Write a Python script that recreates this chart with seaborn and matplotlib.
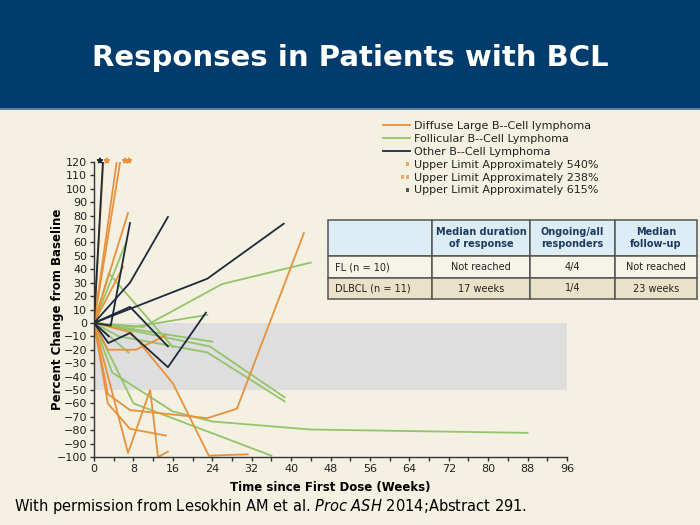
import pandas as pd
import seaborn as sns
import matplotlib.pyplot as plt
from matplotlib.lines import Line2D
from matplotlib.patches import Rectangle
from matplotlib.path import Path

# 颜色
bg = '#f4f0e2'
navy = '#013c6d'
c_dlbcl = '#e8913a'
c_fl = '#94c46a'
c_other = '#1d2a3b'

# DLBCL 患者 (周, 相对基线变化 %)
dlbcl_weeks = [
    [0, 1.9],
    [0, 4.6],
    [0, 5.3],
    [0, 6.9],
    [0, 5.9],
    [0, 2.8, 8.5, 14.5],
    [0, 7.5, 16, 23.3, 31.2],
    [0, 2.8, 7.3, 23, 29, 42.6],
    [0, 2.8, 7.3, 14.6],
    [0, 6.9, 11.4, 13, 15],
]
dlbcl_pct = [
    [0, 120],
    [0, 120],
    [0, 120],
    [0, 82],
    [0, 42],
    [0, -20, -20, -9.5],
    [0, -7, -45, -99, -98],
    [0, -53, -65, -71, -64, 67],
    [0, -60, -79, -84],
    [0, -97, -50, -100, -96],
]

# FL 患者
fl_weeks = [
    [0, 6.5],
    [0, 3, 16],
    [0, 10, 26, 44],
    [0, 8, 23],
    [0, 24],
    [0, 23.5, 38.7],
    [0, 5, 23, 38.7],
    [0, 3.7, 16, 24, 44, 88],
    [0, 8, 36],
    [0, 7],
]
fl_pct = [
    [0, 60],
    [0, 37, -18],
    [0, -3, 29, 45],
    [0, -3, 6],
    [0, -14],
    [0, -17.5, -55.5],
    [0, -10, -22, -58.5],
    [0, -37, -66, -73.5, -79.5, -82],
    [0, -60, -99],
    [0, -22],
]

# 其他 B 细胞淋巴瘤
other_weeks = [
    [0, 1.8],
    [0, 3.4, 7.3],
    [0, 7.3, 15],
    [0, 23, 38.5],
    [0, 7.3, 15],
    [0, 2.9, 7.3, 15, 22.7],
    [0, 3],
]
other_pct = [
    [0, 120],
    [0, -2, 74.5],
    [0, 30, 79],
    [0, 33, 74],
    [0, 12, -17.5],
    [0, -15, -7.5, -33, 7.6],
    [0, -10],
]

# 上限标记 (*, **)
mark_weeks = [1.2, 2.6, 6.3, 7.1]
mark_colors = [c_other, c_dlbcl, c_dlbcl, c_dlbcl]

groups = ['Diffuse Large B--Cell lymphoma', 'Follicular B--Cell Lymphoma', 'Other B--Cell Lymphoma']
legend_marks = ['Upper Limit Approximately 540%', 'Upper Limit Approximately 238%',
                'Upper Limit Approximately 615%']

# 表格
col_labels = ['', 'Median duration\nof response', 'Ongoing/all\nresponders', 'Median\nfollow-up']
row_fl = ['FL (n = 10)', 'Not reached', '4/4', 'Not reached']
row_dlbcl = ['DLBCL (n = 11)', '17 weeks', '1/4', '23 weeks']

rows = []
for g, weeks, pcts in [(groups[1], fl_weeks, fl_pct),
                       (groups[0], dlbcl_weeks, dlbcl_pct),
                       (groups[2], other_weeks, other_pct)]:
    for i, (w, p) in enumerate(zip(weeks, pcts)):
        for wk, pc in zip(w, p):
            rows.append([g, f'{g}-{i}', wk, pc])
df = pd.DataFrame(rows, columns=['group', 'patient', 'week', 'pct'])

fig = plt.figure(figsize=(7, 5.25), dpi=100)
fig.patch.set_facecolor(bg)
fig.patches.append(Rectangle((0, 0.794), 1, 0.206, transform=fig.transFigure,
                             facecolor=navy, edgecolor='none', zorder=0))
fig.patches.append(Rectangle((0, 0.790), 1, 0.005, transform=fig.transFigure,
                             facecolor='#5d7f9c', edgecolor='none', zorder=0))
fig.text(0.5, 0.889, 'Responses in Patients with BCL', color='white',
         fontsize=21, fontweight='bold', ha='center', va='center')

ax = fig.add_axes([0.1343, 0.1295, 0.6757, 0.5619])
ax.set_facecolor('none')
ax.axhspan(-50, 0, color='#dedede', zorder=0, lw=0)

sns.lineplot(data=df, x='week', y='pct', hue='group', units='patient', estimator=None,
             sort=False, hue_order=[groups[1], groups[0], groups[2]],
             palette={groups[0]: c_dlbcl, groups[1]: c_fl, groups[2]: c_other},
             lw=1.3, legend=False, ax=ax)

ax.scatter(mark_weeks, [121] * len(mark_weeks), c=mark_colors, marker='*', s=14,
           clip_on=False, zorder=5)

ax.set_xlim(0, 96)
ax.set_ylim(-100, 120)
ax.set_xticks(range(0, 97, 8))
ax.set_xticks(range(0, 97, 4), minor=True)
ax.set_yticks(range(-100, 121, 10))
ax.tick_params(axis='both', which='both', direction='out', length=3, width=1,
               color='#333333', labelsize=8, labelcolor='#222222', pad=2)
for s in ['top', 'right']:
    ax.spines[s].set_visible(False)
for s in ['left', 'bottom']:
    ax.spines[s].set_color('#333333')
    ax.spines[s].set_linewidth(1)

ax.set_xlabel('Time since First Dose (Weeks)', fontsize=8.5, fontweight='bold', va='center')
ax.set_ylabel('Percent Change from Baseline', fontsize=8.5, fontweight='bold', va='center')
ax.xaxis.set_label_coords(0.5, -0.102)
ax.yaxis.set_label_coords(-0.078, 0.5)

# 图例: 点标记放在图例线段右端
def sq(x0, x1, h=1.3):
    return [(x0, -h), (x1, -h), (x1, h), (x0, h), (x0, -h)]

one_dot = Path(sq(7, 9.6), [1, 2, 2, 2, 79])
two_dot = Path(sq(3.5, 6.1) + sq(7, 9.6), [1, 2, 2, 2, 79] * 2)
handles = [Line2D([], [], color=c_dlbcl, lw=1.3),
           Line2D([], [], color=c_fl, lw=1.3),
           Line2D([], [], color=c_other, lw=1.3),
           Line2D([], [], ls='none', marker=one_dot, ms=19.2, mew=0, color='#e9a868'),
           Line2D([], [], ls='none', marker=two_dot, ms=19.2, mew=0, color='#e9a868'),
           Line2D([], [], ls='none', marker=one_dot, ms=19.2, mew=0, color='#555555')]
fig.legend(handles, groups + legend_marks, loc='upper left',
           bbox_to_anchor=(383 / 700, 1 - 121 / 525), frameon=False, fontsize=8,
           handlelength=2.4, labelspacing=0.26, handletextpad=0.35, numpoints=1,
           borderaxespad=0, borderpad=0, labelcolor='#222222')

# 表格
ax_t = fig.add_axes([328 / 700, 1 - 299 / 525, 369 / 700, 79 / 525])
ax_t.axis('off')
tab = ax_t.table(cellText=[row_fl, row_dlbcl], colLabels=col_labels,
                 colWidths=[104, 98, 85, 82], cellLoc='center', colLoc='center',
                 bbox=[0, 0, 1, 1])
tab.auto_set_font_size(False)
row_h = [36, 22, 21]
row_c = ['#dcedf5', '#f6f3e8', '#e9e2c9']
for (r, c), cell in tab.get_celld().items():
    cell.set_height(row_h[r])
    cell.set_facecolor(row_c[r])
    cell.set_edgecolor('#555555')
    cell.set_linewidth(1.1)
    cell.get_text().set_fontsize(7)
    if r == 0:
        cell.get_text().set_fontweight('bold')
        cell.get_text().set_color('#1f3a60')
    else:
        cell.get_text().set_color('#222222')
    if c == 0:
        cell._loc = 'left'
        cell.get_text().set_ha('left')
        cell.PAD = 0.07

fig.text(14 / 700, 1 - 507 / 525,
         r'With permission from Lesokhin AM et al. $\it{Proc\ ASH}$ 2014;Abstract 291.',
         fontsize=10.5, ha='left', va='center', color='black')

plt.savefig('out.png', dpi=100, facecolor=fig.get_facecolor())
